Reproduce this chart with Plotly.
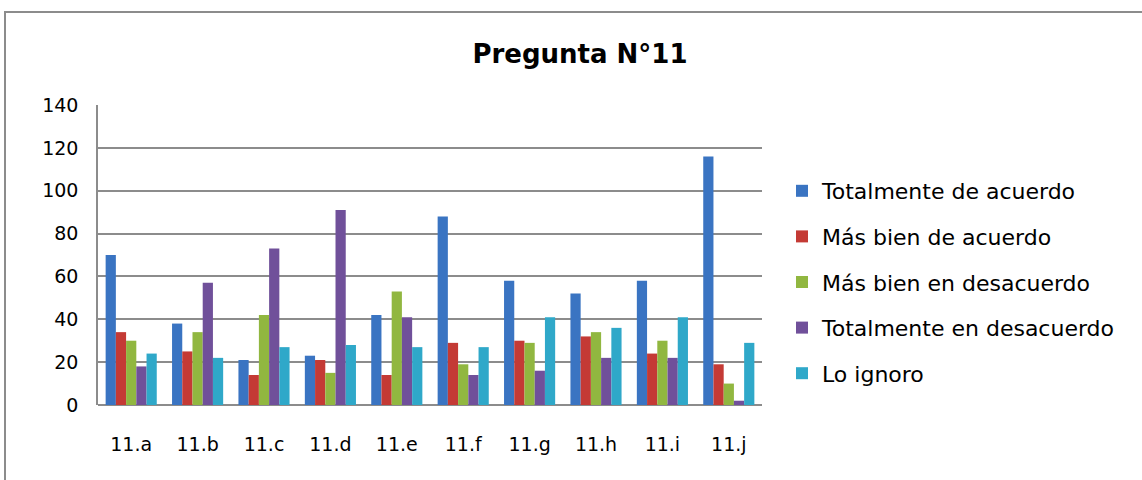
import plotly.graph_objects as go

categories = ["11.a", "11.b", "11.c", "11.d", "11.e", "11.f", "11.g", "11.h", "11.i", "11.j"]
series_names = ["Totalmente de acuerdo", "Más bien de acuerdo", "Más bien en desacuerdo",
                "Totalmente en desacuerdo", "Lo ignoro"]
totalmente_acuerdo = [70, 38, 21, 23, 42, 88, 58, 52, 58, 116]
mas_bien_acuerdo = [34, 25, 14, 21, 14, 29, 30, 32, 24, 19]
mas_bien_desacuerdo = [30, 34, 42, 15, 53, 19, 29, 34, 30, 10]
totalmente_desacuerdo = [18, 57, 73, 91, 41, 14, 16, 22, 22, 2]
lo_ignoro = [24, 22, 27, 28, 27, 27, 41, 36, 41, 29]
y_ticks = [0, 20, 40, 60, 80, 100, 120, 140]

series_values = [totalmente_acuerdo, mas_bien_acuerdo, mas_bien_desacuerdo,
                 totalmente_desacuerdo, lo_ignoro]
colors = ["#3A74C2", "#C43A35", "#91B740", "#70509A", "#2FA8C9"]

FONT = "DejaVu Sans"

fig = go.Figure()
for i, (name, vals) in enumerate(zip(series_names, series_values)):
    fig.add_trace(go.Bar(
        x=categories, y=vals, name=name, legendgroup=name,
        marker=dict(color=colors[i], line=dict(width=0)),
    ))

L, R, T, B = 98, 380, 105, 75
W, H = 1142, 480
pw, ph = W - L - R, H - T - B

def px(xp):
    return (xp - L) / pw

def py(yp):
    return (H - B - yp) / ph

fig.update_layout(
    width=W, height=H,
    margin=dict(l=L, r=R, t=T, b=B),
    paper_bgcolor="white", plot_bgcolor="white",
    barmode="group", bargap=0.23, bargroupgap=0,
    font=dict(family=FONT, color="#000000"),
    title=dict(text="<b>Pregunta N°11</b>", x=580 / W, xref="container", xanchor="center",
               y=1 - 54 / H, yref="container", yanchor="middle",
               font=dict(family=FONT, size=26, color="#000000")),
    legend=dict(x=px(782), xanchor="left", y=py(170), yanchor="top",
                font=dict(family=FONT, size=22, color="#000000"),
                traceorder="grouped", tracegroupgap=14,
                itemwidth=30, bgcolor="rgba(0,0,0,0)"),
    xaxis=dict(showgrid=False, showline=False, ticks="",
               tickfont=dict(family=FONT, size=19, color="#000000"),
               ticklabelstandoff=26),
    yaxis=dict(range=[0, 140], tickvals=y_ticks, showgrid=True,
               gridcolor="#8C8C8C", gridwidth=1.5,
               showline=True, linecolor="#8C8C8C", linewidth=1.5,
               zeroline=True, zerolinecolor="#8C8C8C", zerolinewidth=1.5,
               ticks="", tickfont=dict(family=FONT, size=19, color="#000000"),
               ticklabelstandoff=14),
    shapes=[dict(type="rect", xref="paper", yref="paper",
                 x0=px(5), x1=px(1150), y0=py(490), y1=py(12),
                 line=dict(color="#8C8C8C", width=2), fillcolor="rgba(0,0,0,0)",
                 layer="below")],
)

fig.write_html("out.html", config={"displayModeBar": False},
               post_script="document.body.style.margin='0';")
